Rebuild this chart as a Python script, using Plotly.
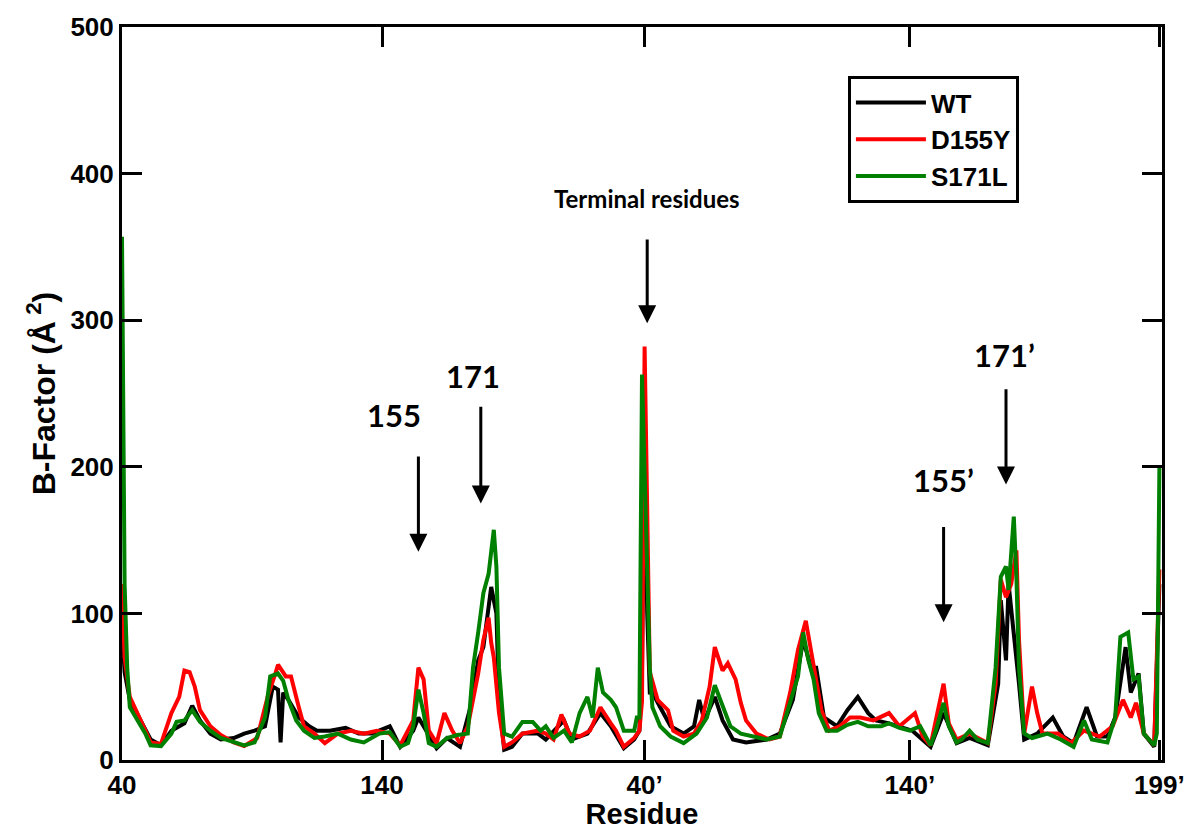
import plotly.graph_objects as go

# sequence position (0 = residue 40 of chain A ... 399 = residue 199' of chain B)
tick_pos = [0, 100, 201, 303, 399]
tick_text = ["40", "140", "40\u2019", "140\u2019", "199\u2019"]

wt_x = [0, 1, 3, 9, 11, 15, 19, 24, 27, 30, 34, 38, 43, 47, 51, 55, 58, 60, 61, 62, 64, 68, 72, 75, 80, 86, 91, 96,
        99, 103, 107, 112, 114, 117, 121, 125, 130, 134, 137, 139, 142, 144, 145, 147, 150, 154, 160, 163, 170, 173,
        179, 184, 188, 193, 197, 199, 200, 201, 202, 203, 204, 207, 211, 216, 220, 222, 224, 228, 231, 235, 240, 248,
        253, 258, 262, 265, 267, 270, 275, 279, 283, 287, 290, 295, 299, 304, 311, 316, 321, 326, 333, 337, 338, 340,
        341, 343, 345, 347, 352, 358, 362, 366, 371, 375, 379, 382, 386, 388, 391, 393, 397, 399]
wt_y = [90, 60, 41, 20, 14, 10, 20, 25, 37, 27, 18, 14, 15, 18, 20, 23, 50, 48, 12, 46, 41, 29, 23, 20, 20, 22, 18, 18,
        20, 23, 9, 20, 29, 20, 8, 15, 9, 36, 68, 77, 118, 100, 41, 7, 9, 18, 18, 14, 27, 14,
        18, 32, 23, 8, 14, 20, 60, 250, 100, 46, 46, 36, 23, 18, 23, 41, 27, 43, 27, 14, 12, 14,
        18, 41, 82, 63, 63, 29, 23, 34, 43, 32, 27, 25, 23, 20, 9, 32, 11.5, 15, 10, 52, 109, 68,
        120, 87, 52, 14, 18, 29, 16, 11.5, 36, 16, 16, 29, 77, 46, 59, 18, 9, 120]

d155y_x = [0, 1, 3, 6, 9, 11, 15, 19, 22, 24, 26, 28, 30, 34, 38, 43, 47, 52, 56, 59, 60, 63, 65, 68, 70, 74, 78, 83,
           88, 93, 98, 103, 107, 112, 114, 116, 118, 121, 124, 127, 130, 133, 137, 139, 141, 142, 143, 145, 147, 150,
           154, 160, 163, 166, 169, 172, 176, 180, 184, 188, 190, 193, 197, 199, 200, 201, 202, 203, 206, 210, 212,
           216, 220, 223, 226, 228, 231, 233, 236, 238, 240, 244, 249, 253, 257, 260, 263, 266, 269, 272, 276, 280,
           284, 289, 295, 299, 305, 308, 311, 313, 316, 318, 321, 326, 333, 336, 338, 340, 342, 344, 345, 347, 350,
           352, 354, 360, 365, 370, 376, 381, 385, 388, 390, 393, 397, 399]
d155y_y = [120, 70, 43, 32, 20, 12, 11, 32, 43, 61, 60, 50, 34, 23, 17, 12, 9.5, 15, 43, 59, 65, 57, 57, 36, 23, 18, 11.5, 18,
           20, 18, 20, 18, 10, 27, 63, 55, 20, 11.5, 32, 20, 11.5, 23, 59, 82, 97, 80, 70, 32, 9, 12,
           18, 20, 18, 14, 31, 18, 16, 20, 36, 25, 20, 9, 15, 20, 40, 282, 150, 60, 41, 34, 20,
           16, 18, 27, 50, 77, 61, 66, 55, 39, 27, 18, 14, 16, 46, 75, 95, 63, 34, 20, 23, 29,
           29, 27, 32, 23, 32, 16, 10, 27, 52, 25, 14, 18, 11.5, 52, 123, 111, 120, 143, 82, 18, 50,
           32, 18, 18, 11.5, 20, 16, 23, 41, 29, 39, 18, 10, 130]

s171l_x = [0, 1, 2, 3, 6, 9, 11, 15, 19, 21, 24, 27, 30, 34, 38, 43, 47, 51, 55, 57, 60, 62, 64, 67, 70, 74, 78, 83,
           88, 93, 98, 99, 103, 107, 110, 112, 114, 116, 118, 121, 125, 129, 133, 135, 137, 139, 141, 143, 144, 145,
           147, 150, 154, 158, 161, 163, 166, 170, 173, 176, 179, 181, 183, 185, 188, 190, 193, 197, 198, 199, 200,
           201, 202, 203, 204, 207, 211, 216, 221, 225, 228, 231, 234, 238, 243, 248, 253, 257, 260, 262, 264, 266,
           268, 271, 275, 279, 283, 287, 292, 295, 299, 303, 307, 311, 313, 316, 318, 321, 323, 326, 329, 333, 336,
           338, 340, 341, 343, 344, 345, 347, 350, 356, 361, 366, 370, 373, 379, 382, 384, 387, 389, 391, 393, 397,
           398, 399]
s171l_y = [357, 120, 63, 36, 27, 18, 10, 9.5, 18, 26, 27, 34, 26, 20, 15, 12, 10, 12, 29, 57, 59, 54, 41, 27, 20, 15, 16, 18,
           14, 12, 17, 18, 19, 9, 11.5, 23, 48, 32, 11.5, 9, 15, 17, 18, 63, 87, 114, 127, 157, 132, 63,
           18, 16, 26, 26, 20, 23, 15, 20, 12, 32, 43, 29, 63, 46, 41, 36, 20, 20, 29, 29, 263,
           200, 132, 63, 36, 23, 16, 11.5, 18, 29, 51, 36, 23, 18, 16, 14, 16, 39, 57, 87, 68, 55,
           32, 20, 20, 24, 26, 23, 23, 25, 22, 20, 23, 10, 20, 39, 23, 12, 14, 20, 14, 11.5, 63,
           125, 132, 116, 166, 125, 63, 18, 15, 18, 14, 9, 27, 14, 12, 29, 84, 87, 55, 57, 18, 10,
           18, 200]

series = [
    ("WT", wt_x, wt_y, "#000000"),
    ("D155Y", d155y_x, d155y_y, "#ff0000"),
    ("S171L", s171l_x, s171l_y, "#008000"),
]

# annotation labels: (text, text_x, text_y, arrow_x, arrow_tail_y, arrow_head_y, font size)
labels = [
    ("155", 104.5, 235, 114, 208, 142, 31),
    ("171", 135, 262, 138, 242, 175, 31),
    ("Terminal residues", 202, 383, 202, 356, 298, 24),
    ("155\u2019", 316, 191, 316, 160, 94, 31),
    ("171\u2019", 339.5, 276, 340, 254, 188, 31),
]

fig = go.Figure()
for name, xs, ys, col in series:
    fig.add_trace(go.Scatter(x=xs, y=ys, mode="lines", name=name,
                             line=dict(color=col, width=4)))

tick_font = dict(family="Liberation Sans, Arial, sans-serif", size=26, color="black", weight="bold")
xtitle_font = dict(family="Liberation Sans, Arial, sans-serif", size=29, color="black", weight="bold")
ytitle_font = dict(family="Liberation Sans, Arial, sans-serif", size=32, color="black", weight="bold")
common = dict(showline=True, linecolor="black", linewidth=3, mirror="ticks",
              ticks="inside", ticklen=20, tickwidth=3, tickcolor="black",
              showgrid=False, zeroline=False, tickfont=tick_font, automargin=False)

fig.update_xaxes(range=[0, 400], tickvals=tick_pos, ticktext=tick_text,
                 title=dict(text="Residue", font=xtitle_font, standoff=10), **common)
fig.update_yaxes(range=[0, 500], tickvals=[0, 100, 200, 300, 400, 500],
                 title=dict(text="B-Factor (\u00c5<sup> 2</sup>)", font=ytitle_font, standoff=6), **common)

for text, tx, ty, axp, tail, head, fs in labels:
    fig.add_annotation(x=tx, y=ty, text=text, showarrow=False,
                       font=dict(family="Lato, Open Sans, sans-serif", size=fs, color="black", weight="bold"))
    fig.add_annotation(x=axp, y=head, ax=axp, ay=tail, axref="x", ayref="y", text="",
                       showarrow=True, arrowhead=2, arrowsize=1.2, arrowwidth=3, arrowcolor="black")

fig.update_layout(
    width=1191, height=830,
    margin=dict(l=122, r=29, t=27, b=70),
    paper_bgcolor="white", plot_bgcolor="white",
    legend=dict(x=0.698, y=0.933, xanchor="left", yanchor="top",
                bordercolor="black", borderwidth=3, bgcolor="white",
                font=dict(family="Liberation Sans, Arial, sans-serif", size=26, color="black", weight="bold"),
                itemwidth=70, tracegroupgap=0),
    showlegend=True,
)

fig.write_html("out.html")
